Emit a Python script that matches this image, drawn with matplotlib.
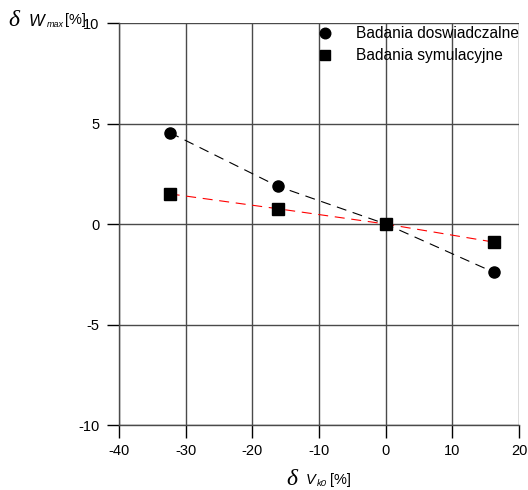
import matplotlib
matplotlib.use("Agg")
import matplotlib.pyplot as plt

plt.rcParams['font.family'] = ['Liberation Sans', 'DejaVu Sans']
plt.rcParams['axes.unicode_minus'] = False

x_exp = [-32.4, -16.2, 0.0, 16.2]
y_exp = [4.55, 1.88, 0.0, -2.4]
x_sim = [-32.4, -16.2, 0.0, 16.2]
y_sim = [1.5, 0.76, 0.0, -0.9]
label_exp = "Badania doswiadczalne"
label_sim = "Badania symulacyjne"
xticks = [-40, -30, -20, -10, 0, 10, 20]
yticks = [-10, -5, 0, 5, 10]

W, H = 528, 490
fig = plt.figure(figsize=(W/100, H/100), dpi=100)
ax = fig.add_axes([119/W, 1-425/H, 400/W, 402/H])

ax.set_xlim(-40, 20)
ax.set_ylim(-10, 10)
ax.set_xticks(xticks)
ax.set_yticks(yticks)
ax.grid(True, color='#4a4a4a', linewidth=1.0)
ax.set_axisbelow(True)
for s in ['top', 'right']:
    ax.spines[s].set_visible(False)
for s in ['left', 'bottom']:
    ax.spines[s].set_color('#4a4a4a')
    ax.spines[s].set_linewidth(1.0)
ax.tick_params(direction='out', length=9, width=1.0, color='black', labelsize=10.5, pad=5)

ax.plot(x_exp, y_exp, color='black', linestyle=(0, (9, 6)), linewidth=0.8, zorder=3)
ax.plot(x_sim, y_sim, color='red', linestyle=(0, (9, 6)), linewidth=0.8, zorder=3)
h1, = ax.plot(x_exp, y_exp, 'o', color='black', markersize=8, linestyle='none', zorder=4, label=label_exp)
h2, = ax.plot(x_sim, y_sim, 's', color='black', markersize=8, linestyle='none', zorder=4, label=label_sim)

leg = ax.legend(handles=[h1, h2], loc='upper left', bbox_to_anchor=(198/400, 1.0),
                frameon=False, fontsize=11.2, handlelength=0.6, handletextpad=1.7,
                labelspacing=0.45, borderaxespad=0.0, borderpad=0.2, markerscale=0.95)

def t(x, y, s, size, style='normal', family=None):
    kw = dict(fontsize=size, style=style, va='baseline', ha='left')
    if family:
        kw['family'] = family
    fig.text(x/W, 1-y/H, s, **kw)

# y label
t(8, 26, "δ", 17, 'italic', ['Liberation Serif'])
t(29, 26, "W", 12, 'italic')
t(46.5, 27, "max", 6.5, 'italic')
t(64.5, 24, "[%]", 10.5)
# x label
t(286, 484.5, "δ", 17, 'italic', ['Liberation Serif'])
t(306, 483.5, "V", 10.5, 'italic')
t(317, 486, "k0", 6.8, 'italic')
t(330, 483.5, "[%]", 10.5)

fig.savefig("out.png", dpi=100)
